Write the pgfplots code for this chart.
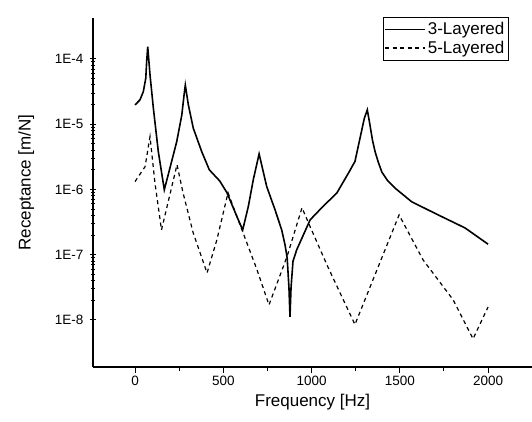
\documentclass[border=0pt]{standalone}
\usepackage{fontspec}
\setmainfont{Liberation Sans}
\usepackage{pgfplots}
\pgfplotsset{compat=1.18}

\begin{document}
\begin{tikzpicture}[x=1pt,y=1pt]
\begin{axis}[
  name=ax,
  scale only axis,
  width=439pt, height=349pt,
  ymode=log,
  xmin=-238, xmax=2249,
  ymin=1.9e-9, ymax=4.25e-4,
  axis x line=bottom, axis y line=left,
  axis line style={line width=1.6pt,-},
  xtick={0,500,1000,1500,2000},
  minor x tick num=1,
  ytick={1e-8,1e-7,1e-6,1e-5,1e-4},
  yticklabels={1E-8,1E-7,1E-6,1E-5,1E-4},
  tick style={black,line width=1pt},
  major tick length=6pt, minor tick length=4pt,
  xtick align=outside, ytick align=center,
  /pgf/number format/assume math mode=true,
  /pgf/number format/1000 sep={},
  tick label style={font=\fontsize{13.5}{16}\selectfont},
  yticklabel style={xshift=-3pt},
  label style={font=\fontsize{17}{19}\selectfont},
  xlabel={Frequency [Hz]},
  ylabel={Receptance [m/N]},
  xlabel style={yshift=-1pt},
  ylabel style={yshift=14pt,xshift=10pt},
  legend style={at={(0.946,1.003)},anchor=north east,draw=black,line width=0.8pt,
    font=\fontsize{17}{19}\selectfont,inner xsep=1.5pt,inner ysep=3pt,row sep=1pt},
  legend cell align=left,
  legend image post style={line width=1.3pt},
  legend image code/.code={\draw[#1] (0pt,0pt) -- (40pt,0pt);},
]
\addplot[black,line width=1.6pt] coordinates {
(0,1.98e-5) (28,2.36e-5) (47,3.16e-5) (61,5.06e-5) (66,9.12e-5) (72,1.55e-4)
(85,5.69e-5) (104,1.76e-5) (132,3.80e-6) (166,9.89e-7) (198,2.14e-6)
(236,5.37e-6) (265,1.38e-5) (278,2.82e-5) (285,3.98e-5) (302,2.00e-5)
(330,8.71e-6) (378,3.80e-6) (421,2.00e-6) (480,1.35e-6) (521,8.91e-7)
(578,3.80e-7) (610,2.40e-7) (642,5.50e-7) (670,1.41e-6) (703,3.51e-6)
(746,1.11e-6) (793,4.90e-7) (831,2.40e-7) (850,1.41e-7) (862,8.91e-8)
(872,3.16e-8) (878,1.12e-8) (884,3.16e-8) (895,7.94e-8) (916,1.19e-7)
(992,3.42e-7) (1065,5.50e-7) (1143,8.80e-7) (1209,1.78e-6) (1246,2.69e-6)
(1275,6.17e-6) (1299,1.23e-5) (1316,1.66e-5) (1331,9.77e-6) (1345,5.75e-6)
(1360,3.80e-6) (1378,2.63e-6) (1398,1.86e-6) (1430,1.38e-6) (1473,1.05e-6)
(1568,6.46e-7) (1718,4.07e-7) (1870,2.57e-7) (2000,1.45e-7)
};
\addlegendentry{3-Layered}
\addplot[black,line width=1.2pt,dash pattern=on 4pt off 3.5pt] coordinates {
(0,1.32e-6) (57,2.24e-6) (85,6.46e-6) (113,1.26e-6) (150,2.40e-7) (187,6.31e-7)
(238,2.40e-6) (272,8.91e-7) (329,2.19e-7) (408,5.25e-8) (464,1.70e-7)
(527,8.91e-7) (606,2.40e-7) (691,5.89e-8) (759,1.70e-8) (861,9.33e-8)
(946,5.25e-7) (992,2.69e-7) (1093,6.46e-8) (1246,8.51e-9) (1496,4.07e-7)
(1632,8.32e-8) (1802,2.04e-8) (1915,5.13e-9) (2000,1.58e-8)
};
\addlegendentry{5-Layered}
\end{axis}
\pgfresetboundingbox
\useasboundingbox ([xshift=-93pt,yshift=-54pt]ax.south west) rectangle ([yshift=18pt]ax.north east);
\end{tikzpicture}
\end{document}
